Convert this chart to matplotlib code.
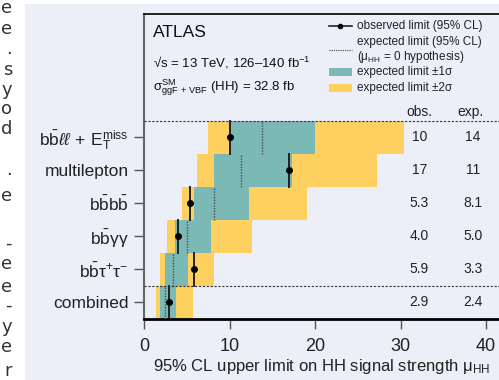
import matplotlib
matplotlib.use("Agg")
import matplotlib.pyplot as plt
from matplotlib.patches import Rectangle

plt.rcParams['font.family'] = ['Liberation Sans', 'DejaVu Sans']
plt.rcParams['mathtext.fontset'] = 'custom'
plt.rcParams['mathtext.rm'] = 'Liberation Sans'
plt.rcParams['mathtext.it'] = 'Liberation Sans:italic'
plt.rcParams['mathtext.bf'] = 'Liberation Sans:bold'

# ---------------- data (bottom to top) ----------------
categories = ['combined',
              r'$\mathrm{b\bar{b}\tau^{+}\tau^{-}}$',
              r'$\mathrm{b\bar{b}\gamma\gamma}$',
              r'$\mathrm{b\bar{b}b\bar{b}}$',
              'multilepton',
              r'$\mathrm{b\bar{b}}\ell\ell\,+\,\mathrm{E}_\mathrm{T}^\mathrm{miss}$']
observed = [2.96, 5.9, 4.0, 5.4, 17.0, 10.0]
expected = [2.5, 3.35, 5.07, 8.15, 11.3, 13.8]
minus2 = [1.37, 1.87, 2.7, 4.4, 6.2, 7.5]
minus1 = [1.87, 2.46, 3.6, 5.8, 8.15, 10.0]
plus1 = [3.7, 5.1, 7.8, 12.3, 17.3, 20.0]
plus2 = [5.7, 8.15, 12.6, 19.1, 27.3, 30.4]
obs_text = ['2.9', '5.9', '4.0', '5.3', '17', '10']
exp_text = ['2.4', '3.3', '5.0', '8.1', '11', '14']
xticks = [0, 10, 20, 30, 40]

teal = '#7ab9b5'
yellow = '#fed060'
bg = '#eceef8'

W, H = 499, 380
fig = plt.figure(figsize=(W / 100, H / 100), dpi=100, facecolor='white')
fig.patches.append(Rectangle((25 / W, 0), 1, 1 - 4 / H, transform=fig.transFigure,
                             facecolor=bg, edgecolor='none', zorder=-10))

# left page text fragments (cut off at the left edge)
frags = [('e', 8), ('e', 29), ('.', 49), ('s', 70), ('y', 90), ('o', 109), ('d', 129),
         ('.', 170), ('e', 196), ('-', 244), ('e', 264), ('e', 287), ('-', 306),
         ('y', 327), ('e', 347), ('r', 371)]
for ch, yp in frags:
    fig.text(12 / W, 1 - yp / H, ch, ha='right', va='center', fontsize=13,
             color='#333333', family='DejaVu Sans')

ax_left = 144 / W
ax_bottom = (H - 319) / H
ax_h = (319 - 14) / H
xmax = 45
ax_w = xmax * 8.55 / W
ax = fig.add_axes([ax_left, ax_bottom, ax_w, ax_h])
ax.set_facecolor(bg)

y = list(range(len(categories)))
ax.barh(y, [p - m for p, m in zip(plus2, minus2)], left=minus2, height=1.0,
        color=yellow, edgecolor='none', zorder=1)
ax.barh(y, [p - m for p, m in zip(plus1, minus1)], left=minus1, height=1.0,
        color=teal, edgecolor='none', zorder=2)
for yi, e in zip(y, expected):
    ax.plot([e, e], [yi - 0.5, yi + 0.5], color='#4a4a4a', lw=1.0, ls=(0, (1, 1)), zorder=3)
for yi, o in zip(y, observed):
    ax.plot([o, o], [yi - 0.5, yi + 0.5], color='#222222', lw=1.4, zorder=4)
ax.plot(observed, y, 'o', color='black', ms=4, zorder=5)

for yi, ot, et in zip(y, obs_text, exp_text):
    ax.text(32.2, yi, ot, ha='center', va='center', fontsize=10, color='#222222')
    ax.text(38.5, yi, et, ha='center', va='center', fontsize=10, color='#222222')
ax.text(32.2, 5.75, 'obs.', ha='center', va='center', fontsize=10, color='#222222')
ax.text(38.2, 5.75, 'exp.', ha='center', va='center', fontsize=10, color='#222222')

ax.axhline(5.5, color='#333333', lw=0.8, ls=(0, (2, 1.5)), zorder=6)
ax.axhline(0.5, color='#333333', lw=0.8, ls=(0, (2, 1.5)), zorder=6)

ax.set_xlim(0, xmax)
ax.set_ylim(-0.5, 8.72)
ax.set_yticks(y)
ax.set_yticklabels(categories, fontsize=12.5)
ax.set_xticks(xticks)
ax.set_xticklabels([str(t) for t in xticks], fontsize=13)
ax.tick_params(axis='x', direction='out', length=7.5, width=1, color='#555555', pad=6,
               labelcolor='#222222')
ax.tick_params(axis='y', direction='out', length=7, width=1, color='#555555', pad=4,
               labelcolor='#222222')
fig.text(322 / W, 1 - 366 / H, '95% CL upper limit on HH signal strength μ$_\\mathrm{HH}$',
         fontsize=12, color='#222222', ha='center', va='center')

ax.spines['left'].set_color('#666666')
ax.spines['left'].set_linewidth(1.5)
ax.spines['bottom'].set_color('black')
ax.spines['bottom'].set_linewidth(2.0)
ax.spines['top'].set_color('black')
ax.spines['top'].set_linewidth(1.2)
ax.spines['right'].set_visible(False)

# header texts
ax.text(1.0, 8.16, 'ATLAS', fontsize=12.5, va='center', ha='left', color='#111111')
ax.text(1.0, 7.23, '√s = 13 TeV, 126–140 fb$^{-1}$', fontsize=9.5, va='center',
        ha='left', color='#111111')
ax.text(1.0, 6.48, 'σ$^\\mathrm{SM}_\\mathrm{ggF\\,+\\,VBF}$ (HH) = 32.8 fb', fontsize=9.5,
        va='center', ha='left', color='#111111')

# legend (manual)
hx0, hx1, tx = 21.6, 24.3, 24.9
lfs = 8.5
ax.plot([hx0, hx1], [8.37, 8.37], color='#222222', lw=1.2, zorder=7)
ax.plot([(hx0 + hx1) / 2], [8.37], 'o', color='black', ms=3, zorder=7)
ax.text(tx, 8.37, 'observed limit (95% CL)', fontsize=lfs, va='center', color='#222222')
ax.plot([hx0, hx1], [7.63, 7.63], color='#444444', lw=0.8, ls=(0, (1, 1)), zorder=7)
ax.text(tx, 7.86, 'expected limit (95% CL)', fontsize=lfs, va='center', color='#222222')
ax.text(tx, 7.41, '(μ$_\\mathrm{HH}$ = 0 hypothesis)', fontsize=lfs, va='center', color='#222222')
ax.add_patch(Rectangle((hx0, 6.96 - 0.12), hx1 - hx0, 0.24, facecolor=teal, edgecolor='none'))
ax.text(tx, 6.96, 'expected limit ±1σ', fontsize=lfs, va='center', color='#222222')
ax.add_patch(Rectangle((hx0, 6.48 - 0.12), hx1 - hx0, 0.24, facecolor=yellow, edgecolor='none'))
ax.text(tx, 6.48, 'expected limit ±2σ', fontsize=lfs, va='center', color='#222222')

fig.savefig('out.png', dpi=100, facecolor='white')
